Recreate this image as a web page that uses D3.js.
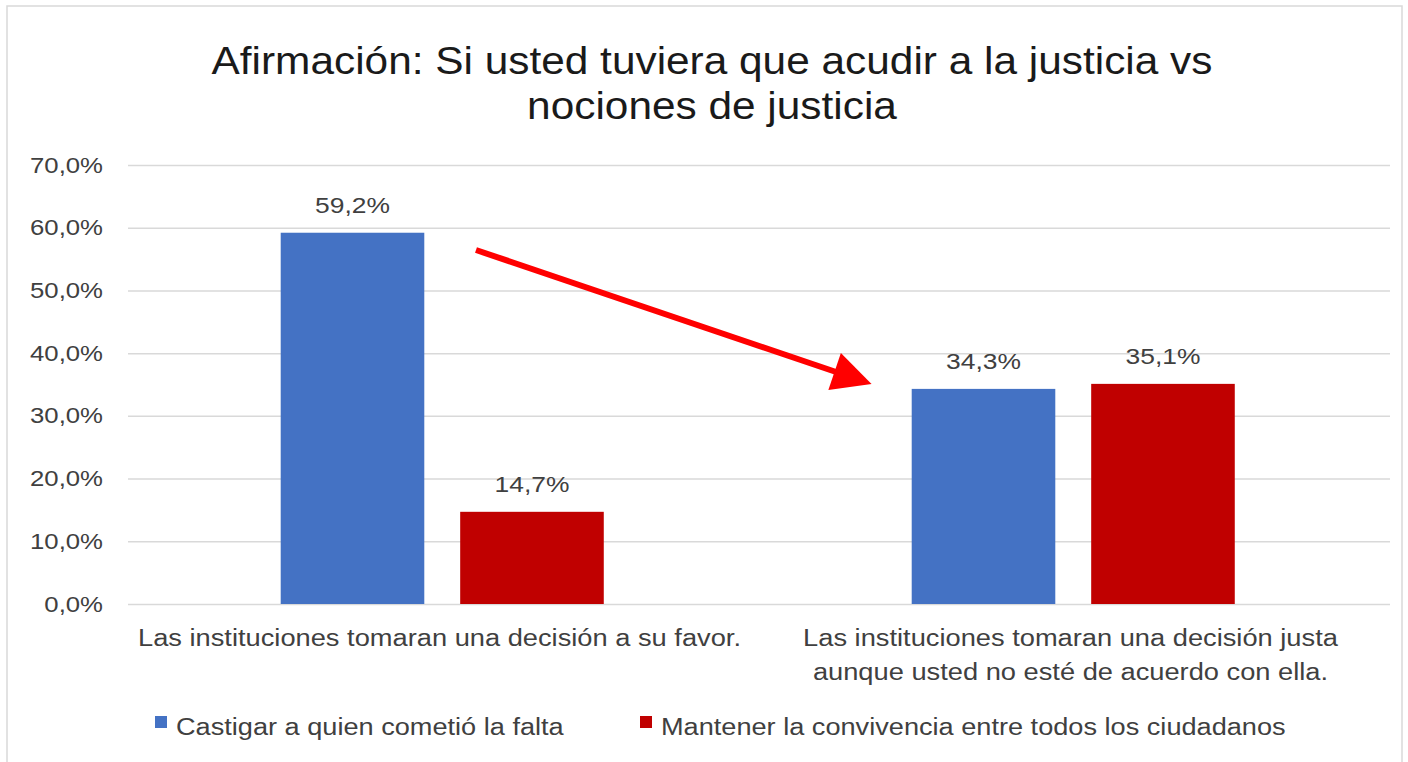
<!DOCTYPE html>
<html>
<head>
<meta charset="utf-8">
<script src="https://cdn.jsdelivr.net/npm/d3@7"></script>
<style>
  body { margin: 0; background: #fff; }
  text { font-family: "Liberation Sans", Arial, sans-serif; fill: #404040; }
</style>
</head>
<body>
<div id="chart"></div>
<script>
var w = 1408,
    h = 762,
    margin = {top: 165, right: 18, bottom: 158, left: 128}

// data
var categories = [
  ["Las instituciones tomaran una decisión a su favor."],
  ["Las instituciones tomaran una decisión justa", "aunque usted no esté de acuerdo con ella."]
]
var seriesNames = ["Castigar a quien cometió la falta", "Mantener la convivencia entre todos los ciudadanos"]
var castigar = [59.2, 34.3]
var mantener = [14.7, 35.1]
var yTicks = [0, 10, 20, 30, 40, 50, 60, 70]
var colors = ["#4472C4", "#C00000"]

// the source picture has its text a bit wider than normal
function stretch(sel, k) {
  sel.each(function() {
    var len = this.getComputedTextLength()
    d3.select(this)
      .attr('textLength', len * k)
      .attr('lengthAdjust', 'spacingAndGlyphs')
  })
}

var svg = d3.select('#chart').append('svg')
    .attr('width', w)
    .attr('height', h)

// outer frame
svg.append('rect')
    .attr('x', 7).attr('y', 6)
    .attr('width', 1395).attr('height', 770)
    .attr('fill', 'none')
    .attr('stroke', '#d9d9d9')
    .attr('stroke-width', 1.5)

// title
var titleLines = ['Afirmación: Si usted tuviera que acudir a la justicia vs', 'nociones de justicia']
var title = svg.selectAll('text.title')
    .data(titleLines)
  .enter().append('text')
    .attr('class', 'title')
    .attr('x', 712)
    .attr('y', function(d, i){ return 74 + i * 45; })
    .attr('text-anchor', 'middle')
    .style('font-size', '38px')
    .style('fill', '#1a1a1a')
    .text(function(d){ return d; })
stretch(title, 1.115)

var x0 = d3.scaleBand()
    .domain(d3.range(categories.length))
    .range([margin.left, w - margin.right])

var x1 = d3.scaleBand()
    .domain([0, 1])
    .range([x0.bandwidth() * 0.242, x0.bandwidth() * 0.754])
    .paddingInner(0.2)

var y = d3.scaleLinear()
    .domain([0, 70])
    .range([h - margin.bottom, margin.top])

// gridlines + y labels
var yAxis = d3.axisLeft(y)
    .tickValues(yTicks)
    .tickSize(-(w - margin.left - margin.right))
    .tickPadding(25)
    .tickFormat(function(d){ return d3.format('.1f')(d).replace('.', ',') + '%'; })

var gy = svg.append('g')
    .attr('transform', 'translate(' + margin.left + ',0)')
    .call(yAxis)
gy.select('.domain').remove()
gy.selectAll('.tick line').attr('stroke', '#d9d9d9').attr('stroke-width', 1.5)
gy.selectAll('.tick text')
    .style('font-size', '22px')
    .style('font-family', '"Liberation Sans", Arial, sans-serif')
    .attr('fill', '#404040')
stretch(gy.selectAll('.tick text'), 1.17)

var values = [castigar, mantener]

var groups = svg.selectAll('g.grp')
    .data(categories)
  .enter().append('g')
    .attr('class', 'grp')
    .attr('transform', function(d, i){ return 'translate(' + x0(i) + ',0)'; })

groups.each(function(cat, ci) {
  var g = d3.select(this)
  var rows = values.map(function(v, si){ return {s: si, v: v[ci]}; })
  g.selectAll('rect')
      .data(rows)
    .enter().append('rect')
      .attr('x', function(d){ return x1(d.s); })
      .attr('y', function(d){ return y(d.v); })
      .attr('width', x1.bandwidth())
      .attr('height', function(d){ return y(0) - y(d.v); })
      .attr('fill', function(d){ return colors[d.s]; })
  var vals = g.selectAll('text.val')
      .data(rows)
    .enter().append('text')
      .attr('class', 'val')
      .attr('x', function(d){ return x1(d.s) + x1.bandwidth() / 2; })
      .attr('y', function(d){ return y(d.v) - 20; })
      .attr('text-anchor', 'middle')
      .style('font-size', '22px')
      .text(function(d){ return d3.format('.1f')(d.v).replace('.', ',') + '%'; })
  stretch(vals, 1.2)
  var lab = g.selectAll('text.cat')
      .data(cat)
    .enter().append('text')
      .attr('class', 'cat')
      .attr('x', x0.bandwidth() / 2 - 4)
      .attr('y', function(d, i){ return y(0) + 42 + i * 34; })
      .attr('text-anchor', 'middle')
      .style('font-size', '23px')
      .text(function(d){ return d; })
  stretch(lab, 1.185)
})

// legend
var legendX = [155, 640]
var lg = svg.selectAll('g.leg')
    .data(seriesNames)
  .enter().append('g')
    .attr('class', 'leg')
    .attr('transform', function(d, i){ return 'translate(' + legendX[i] + ',716)'; })
lg.append('rect')
    .attr('width', 12).attr('height', 12)
    .attr('fill', function(d, i){ return colors[i]; })
var lgText = lg.append('text')
    .attr('x', 21).attr('y', 19)
    .style('font-size', '23px')
    .text(function(d){ return d; })
stretch(lgText, 1.18)

// red arrow annotation
svg.append('defs').append('marker')
    .attr('id', 'head')
    .attr('viewBox', '0 0 10 10')
    .attr('refX', 2).attr('refY', 5)
    .attr('markerWidth', 7.5).attr('markerHeight', 6.5)
    .attr('orient', 'auto')
    .attr('markerUnits', 'strokeWidth')
  .append('path')
    .attr('d', 'M0,0 L10,5 L0,10 Z')
    .attr('fill', '#ff0000')

svg.append('line')
    .attr('x1', 476).attr('y1', 250)
    .attr('x2', 842).attr('y2', 374)
    .attr('stroke', '#ff0000')
    .attr('stroke-width', 6)
    .attr('marker-end', 'url(#head)')
</script>
</body>
</html>
